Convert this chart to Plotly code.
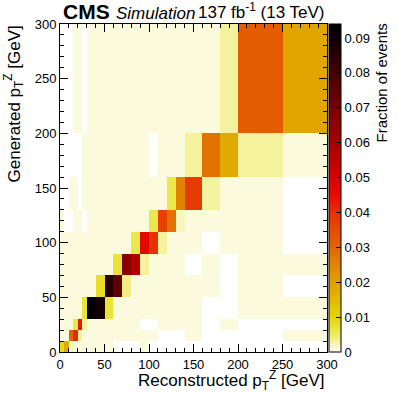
import plotly.graph_objects as go

# Bin edges (GeV)
x_edges = [0, 5, 10, 15, 20, 25, 30, 40, 50, 60, 70, 80, 90, 100, 110, 120, 130, 140, 160, 180, 200, 250, 300]
y_edges = [0, 10, 20, 30, 50, 70, 90, 110, 130, 160, 200, 300]

p = 0.001  # faint populated bins
# Fraction of events per bin; rows go from low to high generated pT
row_0_10    = [0.009, 0.018, 0.002, p, p, p, p, p, p, 0, 0, 0, p, 0, 0, 0, 0, 0, 0, 0, 0, 0]
row_10_20   = [p, p, 0.030, 0.041, 0.003, p, p, p, p, p, p, p, p, p, 0, 0, 0, p, 0, 0, 0, p]
row_20_30   = [p, p, p, 0.006, 0.043, 0.003, p, p, p, p, p, p, 0, 0, p, p, p, p, 0, p, 0, 0]
row_30_50   = [p, p, p, p, p, 0.007, 0.093, 0.089, 0.007, p, p, p, p, p, p, p, p, p, 0, 0, p, p]
row_50_70   = [p, p, p, p, p, p, p, 0.008, 0.086, 0.075, 0.004, p, p, p, p, p, p, p, p, 0, p, 0]
row_70_90   = [p, p, p, p, p, p, p, p, p, 0.007, 0.066, 0.058, 0.003, p, p, p, p, 0, p, 0, p, p]
row_90_110  = [p, p, p, p, p, p, p, p, p, p, p, 0.006, 0.047, 0.040, 0.003, p, p, p, 0, p, p, 0]
row_110_130 = [p, 0, 0, p, p, 0, p, p, p, p, p, p, p, 0.006, 0.037, 0.028, 0.002, p, p, p, p, 0]
row_130_160 = [0, 0, p, p, 0, p, p, p, p, p, p, p, p, p, p, 0.006, 0.025, 0.038, 0.003, p, p, 0]
row_160_200 = [0, 0, 0, 0, 0, p, p, p, p, p, p, p, p, 0, p, p, p, 0.003, 0.028, 0.018, 0.003, p]
row_200_300 = [0, 0, 0, p, p, 0, p, p, p, p, p, p, p, p, p, p, p, p, p, 0.003, 0.032, 0.019]

rows = [row_0_10, row_10_20, row_20_30, row_30_50, row_50_70, row_70_90,
        row_90_110, row_110_130, row_130_160, row_160_200, row_200_300]
z = [[(v if v > 0 else None) for v in r] for r in rows]

x_ticks = [0, 50, 100, 150, 200, 250, 300]
y_ticks = [0, 50, 100, 150, 200, 250, 300]
c_ticks = [0, 0.01, 0.02, 0.03, 0.04, 0.05, 0.06, 0.07, 0.08, 0.09]
c_labels = ["0", "0.01", "0.02", "0.03", "0.04", "0.05", "0.06", "0.07", "0.08", "0.09"]

ZMAX = 0.094
stops = [
    (0.000, "#fdfde8"), (0.0012, "#faf9da"), (0.003, "#f4f29c"), (0.006, "#ebe84a"),
    (0.010, "#e6d400"), (0.015, "#e2b800"), (0.020, "#e0a000"), (0.025, "#e08400"),
    (0.030, "#e26600"), (0.035, "#e44c00"), (0.040, "#e83000"), (0.045, "#e80c00"),
    (0.050, "#d80000"), (0.060, "#a80000"), (0.070, "#780000"), (0.080, "#440000"),
    (0.090, "#100000"), (0.094, "#000000"),
]
colorscale = [[v / ZMAX, c] for v, c in stops]

FONT = "Liberation Sans, Arial, sans-serif"

fig = go.Figure(go.Heatmap(
    x=x_edges, y=y_edges, z=z,
    zmin=0, zmax=ZMAX, colorscale=colorscale,
    hoverongaps=False,
    colorbar=dict(
        x=1.0075, xanchor="left", xpad=0, ypad=0,
        y=0.5, yanchor="middle", len=1.0, lenmode="fraction",
        thickness=12, thicknessmode="pixels",
        outlinewidth=1, outlinecolor="#000000",
        tickvals=c_ticks, ticktext=c_labels,
        ticks="inside", ticklen=5, tickcolor="#000000",
        tickfont=dict(family=FONT, size=13, color="#000"),
    ),
))

axis_common = dict(
    range=[0, 300], showgrid=False, zeroline=False,
    showline=True, linecolor="#000000", linewidth=1, mirror="allticks",
    ticks="inside", ticklen=8, tickcolor="#000000",
    tickfont=dict(family=FONT, size=13, color="#000"),
    minor=dict(ticks="inside", dtick=10, ticklen=4, tickcolor="#000000"),
)
fig.update_xaxes(tickvals=x_ticks, **axis_common)
fig.update_yaxes(tickvals=y_ticks, **axis_common)

W, H = 399, 394
L, R, T, B = 60, 72, 24, 42
pw, ph = W - L - R, H - T - B

def px_x(px):
    return (px - L) / pw

def px_y(py):
    return (H - B - py) / ph

annotations = [
    dict(text="<b>CMS</b>", x=px_x(61), y=px_y(12), xanchor="left", yanchor="middle",
         font=dict(family=FONT, size=21, color="#000")),
    dict(text="<i>Simulation</i>", x=px_x(114), y=px_y(13), xanchor="left", yanchor="middle",
         font=dict(family=FONT, size=17, color="#000")),
    dict(text="137 fb<sup>-1</sup> (13 TeV)", x=px_x(327), y=px_y(11), xanchor="right", yanchor="middle",
         font=dict(family=FONT, size=17, color="#000")),
    dict(text="Reconstructed p<sub>T</sub><sup>Z</sup> [GeV]", x=px_x(327), y=px_y(380),
         xanchor="right", yanchor="middle", font=dict(family=FONT, size=17, color="#000")),
    dict(text="Generated p<sub>T</sub><sup>Z</sup> [GeV]", x=px_x(14), y=px_y(24), textangle=-90,
         xanchor="center", yanchor="top", font=dict(family=FONT, size=17, color="#000")),
    dict(text="Fraction of events", x=px_x(381), y=px_y(22), textangle=-90,
         xanchor="center", yanchor="top", font=dict(family=FONT, size=15, color="#000")),
]
for a in annotations:
    a.update(xref="paper", yref="paper", showarrow=False)

fig.update_layout(
    width=W, height=H,
    margin=dict(l=L, r=R, t=T, b=B, autoexpand=False),
    paper_bgcolor="#ffffff", plot_bgcolor="#ffffff",
    annotations=annotations,
    showlegend=False,
)

fig.write_html(
    "out.html",
    config={"displayModeBar": False},
    post_script="document.body.style.margin='0';document.body.style.overflow='hidden';",
)
